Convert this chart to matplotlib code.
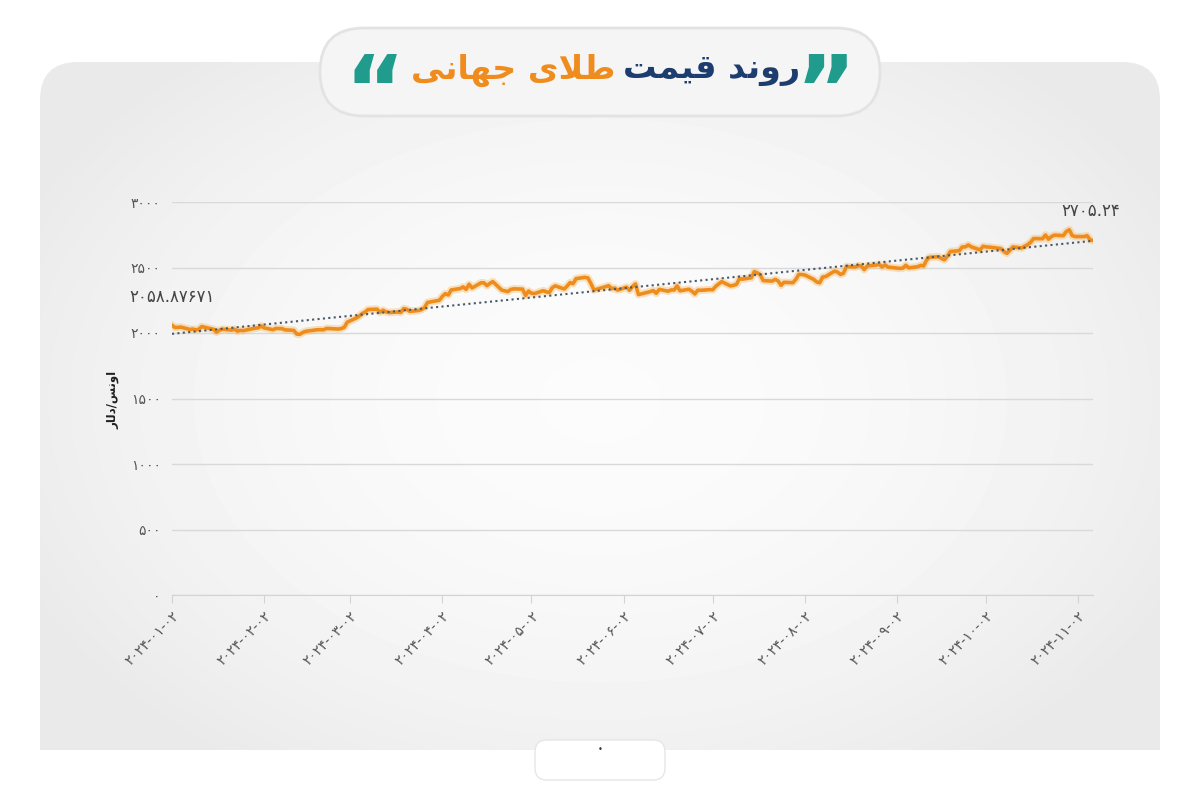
import numpy as np
import pandas as pd
import matplotlib
matplotlib.use("Agg")
import matplotlib.pyplot as plt
import matplotlib.dates as mdates
from matplotlib.patches import FancyBboxPatch, Rectangle

# gold price, USD per ounce, trading days of 2024
price_dates = [
    "01-02", "01-03", "01-04", "01-05", "01-08", "01-09", "01-10", "01-11", "01-12", "01-16", "01-17",
    "01-18", "01-19", "01-22", "01-23", "01-24", "01-25", "01-26", "01-29", "01-30", "01-31",
    "02-01", "02-02", "02-05", "02-06", "02-07", "02-08", "02-09", "02-12", "02-13", "02-14",
    "02-15", "02-16", "02-20", "02-21", "02-22", "02-23", "02-26", "02-27", "02-28", "02-29",
    "03-01", "03-04", "03-05", "03-06", "03-07", "03-08", "03-11", "03-12", "03-13", "03-14",
    "03-15", "03-18", "03-19", "03-20", "03-21", "03-22", "03-25", "03-26", "03-27", "03-28",
    "04-01", "04-02", "04-03", "04-04", "04-05", "04-08", "04-09", "04-10", "04-11", "04-12", "04-15",
    "04-16", "04-17", "04-18", "04-19", "04-22", "04-23", "04-24", "04-25", "04-26", "04-29", "04-30",
    "05-01", "05-02", "05-03", "05-06", "05-07", "05-08", "05-09", "05-10", "05-13", "05-14", "05-15",
    "05-16", "05-17", "05-20", "05-21", "05-22", "05-23", "05-24", "05-28", "05-29", "05-30", "05-31",
    "06-03", "06-04", "06-05", "06-06", "06-07", "06-10", "06-11", "06-12", "06-13", "06-14",
    "06-17", "06-18", "06-19", "06-20", "06-21", "06-24", "06-25", "06-26", "06-27", "06-28",
    "07-01", "07-02", "07-03", "07-05", "07-08", "07-09", "07-10", "07-11", "07-12", "07-15", "07-16",
    "07-17", "07-18", "07-19", "07-22", "07-23", "07-24", "07-25", "07-26", "07-29", "07-30", "07-31",
    "08-01", "08-02", "08-05", "08-06", "08-07", "08-08", "08-09", "08-12", "08-13", "08-14", "08-15",
    "08-16", "08-19", "08-20", "08-21", "08-22", "08-23", "08-26", "08-27", "08-28", "08-29", "08-30",
    "09-03", "09-04", "09-05", "09-06", "09-09", "09-10", "09-11", "09-12", "09-13", "09-16",
    "09-17", "09-18", "09-19", "09-20", "09-23", "09-24", "09-25", "09-26", "09-27", "09-30",
    "10-01", "10-02", "10-03", "10-04", "10-07", "10-08", "10-09", "10-10", "10-11", "10-14", "10-15",
    "10-16", "10-17", "10-18", "10-21", "10-22", "10-23", "10-24", "10-25", "10-28", "10-29", "10-30", "10-31",
    "11-01", "11-04", "11-05", "11-06", "11-07",
]
prices = [
    2058.87671, 2042, 2043, 2045, 2027, 2030, 2024, 2028, 2049, 2028, 2006,
    2022, 2029, 2022, 2029, 2014, 2020, 2018, 2032, 2037, 2039,
    2054, 2039, 2025, 2035, 2034, 2034, 2024, 2020, 1992, 1990,
    2004, 2013, 2025, 2025, 2024, 2035, 2031, 2030, 2034, 2044,
    2083, 2114, 2128, 2148, 2160, 2179, 2182, 2158, 2174, 2162,
    2156, 2160, 2157, 2186, 2181, 2165, 2172, 2178, 2194, 2233,
    2250, 2280, 2300, 2290, 2329, 2339, 2352, 2333, 2372, 2344, 2383,
    2383, 2361, 2379, 2392, 2327, 2322, 2316, 2332, 2337, 2335, 2286,
    2320, 2303, 2301, 2323, 2314, 2309, 2346, 2360, 2336, 2358, 2385,
    2376, 2415, 2425, 2420, 2378, 2329, 2334, 2361, 2338, 2343, 2327,
    2350, 2326, 2355, 2375, 2293, 2310, 2316, 2324, 2303, 2333,
    2319, 2329, 2328, 2360, 2322, 2334, 2319, 2298, 2327, 2326,
    2331, 2330, 2356, 2392, 2359, 2364, 2371, 2415, 2411, 2422, 2469,
    2459, 2445, 2400, 2396, 2409, 2398, 2364, 2387, 2384, 2410, 2448,
    2446, 2443, 2409, 2390, 2383, 2427, 2431, 2472, 2465, 2447, 2456,
    2507, 2504, 2514, 2512, 2484, 2512, 2518, 2525, 2504, 2521, 2503,
    2493, 2495, 2517, 2497, 2506, 2516, 2512, 2558, 2578, 2582,
    2569, 2559, 2587, 2622, 2628, 2657, 2657, 2672, 2658, 2634,
    2662, 2657, 2656, 2653, 2644, 2622, 2608, 2630, 2657, 2649, 2662,
    2674, 2692, 2721, 2720, 2748, 2716, 2736, 2747, 2743, 2774, 2788, 2744,
    2736, 2736, 2743, 2712, 2705.24,
]
tick_dates = ["2024-01-02", "2024-02-02", "2024-03-02", "2024-04-02", "2024-05-02", "2024-06-02",
              "2024-07-02", "2024-08-02", "2024-09-02", "2024-10-02", "2024-11-02"]
y_ticks = [0, 500, 1000, 1500, 2000, 2500, 3000]

# Persian text, written in shaped (presentation) forms and visual order
title_orange = "\uFEF0\uFEE7\uFE8E\uFEEC\uFE9F \uFEEF\uFEFC\uFEC3"   # طلای جهانی
title_blue = "\uFE96\uFEE4\uFEF4\uFED7 \uFEAA\uFEE7\uFEED\uFEAD"      # روند قیمت
y_title = "\uFEAD\uFE8E\uFEDF\uFEA9/\uFEB2\uFEE7\uFEED\uFE8D"          # اونس/دلار

fa = str.maketrans("0123456789", "۰۱۲۳۴۵۶۷۸۹")

dates = pd.to_datetime(["2024-" + d for d in price_dates])
prices = np.array(prices)
ticks = pd.to_datetime(tick_dates)

fig = plt.figure(figsize=(12, 8), dpi=100)
fig.patch.set_facecolor("white")

# background panel with soft radial gradient
bg = fig.add_axes([0, 0, 1, 1])
bg.axis("off")
panel = FancyBboxPatch((40, 62), 1120, 740, boxstyle="round,pad=0,rounding_size=38",
                       fc="none", ec="none")
bg.add_patch(panel)
yy, xx = np.mgrid[0:800, 0:1200]
r2 = ((xx - 600) / 620.0) ** 2 + ((yy - 400) / 430.0) ** 2
grad = np.clip(0.985 - 0.065 * r2, 0.915, 1)
im = bg.imshow(grad, cmap="gray", vmin=0, vmax=1, extent=(0, 1200, 800, 0), zorder=0)
im.set_clip_path(panel)
bg.add_patch(Rectangle((0, 750), 1200, 50, fc="white", ec="none", zorder=1))
bg.add_patch(FancyBboxPatch((535, 740), 130, 40, boxstyle="round,pad=0,rounding_size=12",
                            fc="white", ec="#e6e6e6", lw=1, zorder=2))
bg.text(600, 749, "\u2022", fontsize=6, color="#333333", ha="center", va="center", zorder=3)

# title pill
bg.add_patch(FancyBboxPatch((320, 28), 560, 88, boxstyle="round,pad=0,rounding_size=44",
                            fc="#f5f5f5", ec="#e3e3e3", lw=2, zorder=2))
bg.text(615, 70, title_orange, fontsize=24, fontweight="bold", color="#f08c1e",
        ha="right", va="center", zorder=3)
bg.text(623, 70, title_blue, fontsize=24, fontweight="bold", color="#1d3d6e",
        ha="left", va="center", zorder=3)
bg.text(405, 96, "\u201c", fontsize=66, fontweight="bold", color="#1f9c8c",
        ha="right", va="center", zorder=3)
bg.text(796, 96, "\u201d", fontsize=66, fontweight="bold", color="#1f9c8c",
        ha="left", va="center", zorder=3)
bg.set_xlim(0, 1200)
bg.set_ylim(800, 0)
bg.set_aspect("auto")

# chart
ax = fig.add_axes([172 / 1200, 1 - 595 / 800, (1093 - 172) / 1200, (595 - 202) / 800])
ax.set_facecolor("none")

ax.plot(dates, prices, color="#f6b04f", lw=5.5, alpha=0.35, solid_joinstyle="round", zorder=3)
ax.plot(dates, prices, color="#ee8c1c", lw=2.6, solid_joinstyle="round", zorder=4)

xnum = mdates.date2num(dates)
k, b = np.polyfit(xnum, prices, 1)
ax.plot(dates, k * xnum + b, color="#475867", lw=1.5, ls=(0, (1, 1.6)), zorder=5)

ax.annotate(f"{prices[0]:.5f}".translate(fa), (dates[0], prices[0]), xytext=(0, 14),
            textcoords="offset points", ha="center", va="bottom", fontsize=12, color="#444444")
ax.annotate(f"{prices[-1]:.2f}".translate(fa), (dates[-1], prices[-1]), xytext=(-2, 15),
            textcoords="offset points", ha="center", va="bottom", fontsize=12, color="#444444")

ax.set_xlim(dates[0], dates[-1])
ax.set_ylim(0, 3000)
ax.set_yticks(y_ticks)
ax.set_yticklabels([str(v).translate(fa) for v in y_ticks], fontsize=10, color="#555555")
ax.set_xticks(ticks)
ax.set_xticklabels([t.translate(fa) for t in tick_dates], fontsize=10, color="#555555",
                   rotation=45, ha="right", va="top", rotation_mode="anchor")
ax.yaxis.grid(True, color="#d9d9d9", lw=1)
ax.set_axisbelow(True)
for s in ["top", "right", "left"]:
    ax.spines[s].set_visible(False)
ax.spines["bottom"].set_color("#d3d3d3")
ax.tick_params(axis="y", length=0, pad=8)
ax.tick_params(axis="x", length=6, color="#d3d3d3", pad=4)

fig.text(113 / 1200, 1 - 400 / 800, y_title, rotation=90, fontsize=8.5, fontweight="bold",
         color="#222222", ha="center", va="center")

fig.savefig("out.png", dpi=100)
